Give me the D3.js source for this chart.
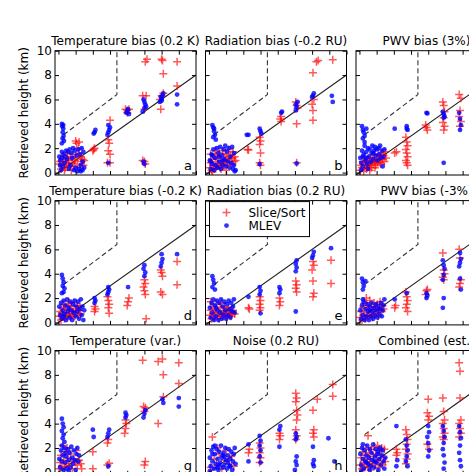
<!DOCTYPE html>
<html>
<head>
<meta charset="utf-8">
<script src="https://cdn.jsdelivr.net/npm/d3@7"></script>
<style>
  body { margin: 0; background: #fff; }
  text { font-family: 'DejaVu Sans', sans-serif; }
</style>
</head>
<body>
<svg id="chart" width="469" height="472"></svg>
<script>
// panel titles and letters
let titles = ['Temperature bias (0.2 K)', 'Radiation bias (-0.2 RU)', 'PWV bias (3%)',
  'Temperature bias (-0.2 K)', 'Radiation bias (0.2 RU)', 'PWV bias (-3%)',
  'Temperature (var.)', 'Noise (0.2 RU)', 'Combined (est.)']
let letters = ['a', 'b', 'c', 'd', 'e', 'f', 'g', 'h', 'i']
let xTicks = [0, 1, 2, 3, 4, 5, 6, 7, 8]
let yTicks = [0, 2, 4, 6, 8, 10]
let oneToOne = [[-0.2, -0.2], [8, 8]]
let limitLine = [[0.3, 3.1], [3.4, 6.4], [3.4, 10]]

// [true height, retrieved height] in km
let sliceA = [[0.05,0.7],[0.1,0.9],[0.15,0.3],[0.2,0.6],[0.25,1.1],[0.3,0.9],[0.35,0.2],[0.4,0.4],[0.45,0.8],[0.5,0.7],[0.55,1.2],[0.6,1.0],[0.65,0.5],[0.7,1.3],[0.75,0.2],[0.8,0.8],[0.85,1.5],[0.9,0.5],[0.95,1.0],[1.0,1.2],[1.0,2.6],[1.05,2.4],[1.1,0.7],[1.15,2.0],[1.2,1.6],[1.25,0.4],[1.3,1.3],[1.35,0.9],[1.4,1.1],[1.45,0.6],[1.5,1.0],[0.3,1.4],[0.5,1.6],[1.2,2.5],
  [2.0,1.8],[2.1,2.0],[2.05,1.9],[3.0,4.3],[2.9,2.7],[2.95,2.4],[2.9,1.8],[3.0,1.5],[2.85,0.8],[3.0,0.8],
  [3.9,5.2],[4.0,5.1],[4.1,5.2],[4.0,4.9],[4.9,6.3],[5.1,6.3],[5.0,5.2],[4.9,1.0],[5.0,0.9],[5.05,0.7],[5.05,9.1],[5.15,9.3],
  [6.0,9.3],[6.05,9.2],[6.1,8.1],[5.9,6.0],[6.0,6.3],[5.95,5.2],[6.1,6.5],[6.9,9.1],[6.9,7.1]]
let mlevA = [[0.05,1.3],[0.1,1.0],[0.15,0.2],[0.2,1.2],[0.25,0.5],[0.3,1.5],[0.35,0.8],[0.4,1.3],[0.45,1.8],[0.5,1.1],[0.55,1.7],[0.6,0.3],[0.65,1.9],[0.7,0.6],[0.75,1.6],[0.8,1.2],[0.85,2.0],[0.9,0.2],[0.95,1.8],[1.0,0.4],[1.05,1.4],[1.1,0.1],[1.15,1.9],[1.2,0.3],[1.25,1.5],[1.3,0.6],[1.35,2.0],[1.4,0.2],[1.45,1.7],[1.5,0.4],[1.3,0.1],[1.4,0.9],[0.2,1.7],[0.1,0.6],
  [0.2,4.0],[0.22,3.8],[0.28,3.6],[0.25,3.3],[0.3,3.0],[0.24,2.8],[0.32,2.6],[0.2,2.4],[0.28,3.9],
  [2.1,3.3],[2.15,3.5],[2.05,3.2],[2.85,3.1],[2.9,3.3],[2.95,3.5],[3.0,3.7],[2.9,3.9],[2.9,0.8],
  [3.95,4.9],[4.0,5.0],[4.05,5.2],[4.1,4.8],[4.9,5.0],[5.0,5.3],[5.05,5.6],[5.0,5.8],[4.95,6.0],[5.1,5.4],[5.0,0.7],[4.95,0.9],
  [5.9,5.8],[6.0,6.0],[6.05,6.3],[6.1,6.5],[5.95,6.2],[6.0,5.9],[6.9,6.4],[6.9,5.6]]

let sliceB = [[0.05,0.4],[0.1,0.8],[0.15,0.2],[0.2,1.1],[0.25,0.6],[0.3,0.3],[0.35,1.4],[0.4,0.9],[0.45,0.5],[0.5,1.2],[0.55,0.7],[0.6,1.6],[0.65,0.4],[0.7,1.0],[0.75,0.8],[0.8,1.8],[0.85,0.6],[0.9,1.3],[0.95,0.9],[1.0,1.5],[1.05,0.7],[1.1,1.1],[1.15,1.9],[1.2,0.9],[1.25,1.4],[1.3,0.6],[1.35,1.2],[1.4,1.7],[1.45,0.9],[1.5,1.3],[1.55,1.0],[0.4,1.8],[0.1,1.5],[0.7,0.3],[1.0,0.2],[0.2,0.05],
  [2.3,1.85],[2.25,1.9],[2.95,2.9],[3.0,2.6],[2.95,2.3],[3.0,1.6],[2.95,0.8],[3.0,0.6],
  [4.2,4.6],[4.15,4.4],[4.2,4.2],[5.05,5.8],[5.1,5.5],[5.15,5.3],[5.1,4.0],[5.1,0.8],
  [6.05,8.2],[6.1,6.0],[6.0,5.6],[6.05,5.1],[6.05,4.3],[6.25,9.1],[6.35,9.2],[7.2,9.25]]
let mlevB = [[0.05,1.0],[0.1,0.3],[0.15,1.5],[0.2,0.7],[0.25,1.9],[0.3,0.2],[0.35,1.2],[0.4,0.6],[0.45,2.0],[0.5,0.4],[0.55,1.6],[0.6,0.9],[0.65,2.1],[0.7,0.3],[0.75,1.4],[0.8,0.6],[0.85,1.9],[0.9,1.1],[0.95,2.2],[1.0,0.5],[1.05,1.7],[1.1,0.9],[1.15,2.0],[1.2,0.4],[1.25,1.3],[1.3,0.8],[1.35,2.1],[1.4,0.3],[1.45,1.6],[1.5,0.1],[1.55,0.2],[0.2,1.4],[0.6,1.3],[0.1,0.9],[0.8,1.0],[1.45,0.6],
  [0.2,3.9],[0.25,3.7],[0.3,3.4],[0.35,3.1],[0.25,2.9],[0.4,2.7],[0.3,3.6],
  [2.2,3.1],[2.3,3.1],[2.95,3.6],[3.0,3.4],[3.05,3.2],[2.95,0.7],
  [4.2,4.9],[4.25,5.0],[5.05,5.1],[5.1,5.4],[5.15,5.8],[5.05,5.6],[5.1,0.75],
  [6.0,6.2],[6.1,6.5],[6.05,6.3],[7.15,6.3],[7.2,5.8]]

let sliceC = [[0.05,0.2],[0.1,0.6],[0.15,0.4],[0.2,0.9],[0.25,0.1],[0.3,0.7],[0.35,1.0],[0.4,0.3],[0.45,0.8],[0.5,0.5],[0.55,1.2],[0.6,0.6],[0.65,0.9],[0.7,0.4],[0.75,1.1],[0.8,0.7],[0.85,1.4],[0.9,0.9],[0.95,0.6],[1.0,1.2],[1.05,0.8],[1.1,1.5],[1.15,1.0],[1.2,1.3],[1.25,0.7],[1.3,1.6],[1.35,1.1],[1.4,1.4],[1.45,0.9],[1.5,1.7],[1.55,1.2],[0.3,1.3],[0.6,0.2],[0.9,0.4],[1.2,0.8],
  [2.05,1.6],[2.15,1.7],[2.7,2.9],[2.75,2.5],[2.8,2.2],[2.7,1.9],[2.75,1.6],[2.8,1.3],[2.7,1.0],[2.75,0.8],[2.8,0.6],
  [3.85,3.9],[3.9,3.7],[3.95,3.5],[4.85,5.8],[4.9,5.5],[4.95,5.0],[4.9,4.5],[4.85,4.1],[4.95,3.8],[4.9,3.5],
  [5.8,6.4],[5.9,6.1],[5.85,5.1],[5.8,4.6],[5.9,4.2],[5.85,3.8]]
let mlevC = [[0.05,1.2],[0.1,0.8],[0.15,1.8],[0.2,0.5],[0.25,1.5],[0.3,2.2],[0.35,1.0],[0.4,1.7],[0.45,0.7],[0.5,2.0],[0.55,1.3],[0.6,1.9],[0.65,0.9],[0.7,1.6],[0.75,2.2],[0.8,1.1],[0.85,1.8],[0.9,2.1],[0.95,1.4],[1.0,1.9],[1.05,1.0],[1.1,2.0],[1.15,1.5],[1.2,2.2],[1.25,1.2],[1.3,1.8],[1.35,0.5],[1.4,1.3],[1.45,1.9],[0.2,1.3],[0.5,0.3],[0.1,0.2],[0.4,1.2],[0.8,1.6],
  [0.15,3.8],[0.2,3.5],[0.25,3.3],[0.3,3.0],[0.2,2.8],[0.3,2.5],[0.4,3.6],
  [2.05,3.6],[2.75,3.8],[2.8,3.5],[2.75,3.6],[3.9,4.9],[3.95,4.85],
  [4.85,5.0],[4.9,4.8],[4.95,4.6],[4.9,4.5],[4.9,0.8],[5.8,4.9],[5.85,4.4],[5.9,3.9],[5.85,3.5]]

let sliceD = [[0.05,0.5],[0.1,0.9],[0.15,0.2],[0.2,1.2],[0.25,0.6],[0.3,1.5],[0.35,0.3],[0.4,0.8],[0.45,1.1],[0.5,0.5],[0.55,1.4],[0.6,0.7],[0.65,1.0],[0.7,0.4],[0.75,1.3],[0.8,0.6],[0.85,0.9],[0.9,1.6],[0.95,0.5],[1.0,1.1],[1.05,0.8],[1.1,1.4],[1.15,0.6],[1.2,1.0],[1.25,1.3],[1.3,0.7],[0.2,0.8],[0.6,1.7],
  [2.1,0.9],[2.15,1.1],[2.1,1.3],[2.85,2.1],[2.9,1.8],[2.95,1.5],[2.9,1.2],[2.95,0.75],
  [4.0,1.4],[4.05,1.7],[4.1,2.0],[5.0,3.5],[5.05,3.2],[4.95,2.9],[5.0,2.6],[5.05,2.3],[5.1,0.3],
  [5.95,4.3],[6.0,4.1],[6.05,3.8],[5.95,2.5],[6.05,2.3],[6.9,5.0],[6.9,3.1]]
let mlevD = [[0.05,1.3],[0.1,0.6],[0.15,1.6],[0.2,0.3],[0.25,1.0],[0.3,1.8],[0.35,0.7],[0.4,1.4],[0.45,0.2],[0.5,1.9],[0.55,0.9],[0.6,1.2],[0.65,0.4],[0.7,1.7],[0.75,1.0],[0.8,0.2],[0.85,1.5],[0.9,0.8],[0.95,1.8],[1.0,0.5],[1.05,1.3],[1.1,0.9],[1.15,1.7],[1.2,0.3],[1.25,1.1],[1.3,1.9],[1.35,0.6],[1.4,1.3],[1.45,0.2],[1.5,1.0],[0.3,0.5],
  [0.2,3.9],[0.25,3.6],[0.3,3.3],[0.25,3.0],[0.35,2.8],[0.3,2.5],[0.2,2.4],
  [2.1,1.6],[2.15,1.8],[2.1,2.0],[2.85,2.3],[2.9,2.5],[2.95,2.7],[2.9,2.9],[4.05,2.9],
  [5.0,3.8],[5.05,4.1],[4.95,4.4],[5.0,4.7],[5.95,4.6],[6.0,4.9],[6.05,5.2],[6.0,5.6],[6.9,5.6]]

let sliceE = [[0.05,0.6],[0.1,1.0],[0.15,0.3],[0.2,1.3],[0.25,0.7],[0.3,0.4],[0.35,1.1],[0.4,0.8],[0.45,1.5],[0.5,0.5],[0.55,1.0],[0.6,0.3],[0.65,1.2],[0.7,0.7],[0.75,1.6],[0.8,0.5],[0.85,0.9],[0.9,1.3],[0.95,0.6],[1.0,1.0],[1.05,0.4],[1.1,0.8],[1.15,1.2],[1.2,0.6],[1.25,0.9],[1.3,0.5],[1.35,0.8],[1.4,1.0],[1.5,0.7],[0.1,1.7],
  [2.3,1.2],[2.35,1.1],[2.95,2.1],[3.0,1.8],[2.95,1.5],[3.0,1.2],[2.95,1.0],
  [4.1,1.4],[4.15,1.7],[4.1,2.0],[5.05,3.4],[5.1,3.1],[5.05,2.8],[5.1,2.5],
  [6.05,5.0],[6.1,4.7],[6.0,4.3],[6.05,3.4],[6.1,2.4],[6.05,2.1],[7.1,5.1],[7.1,3.2]]
let mlevE = [[0.05,1.2],[0.1,0.4],[0.15,1.6],[0.2,0.8],[0.25,1.9],[0.3,0.2],[0.35,1.4],[0.4,0.5],[0.45,1.8],[0.5,1.0],[0.55,0.2],[0.6,1.6],[0.65,0.8],[0.7,1.9],[0.75,0.3],[0.8,1.3],[0.85,0.6],[0.9,1.7],[0.95,1.0],[1.0,0.3],[1.05,1.5],[1.1,0.6],[1.15,1.8],[1.2,1.1],[1.25,0.4],[1.3,1.6],[1.35,0.9],[1.4,1.3],[1.45,1.9],[1.5,0.8],[0.4,1.2],
  [0.2,3.8],[0.25,3.5],[0.3,3.2],[0.2,2.9],[0.35,2.7],
  [2.3,2.1],[2.95,2.3],[3.0,2.6],[2.95,2.9],[3.0,0.75],[4.1,2.4],[4.15,2.7],[4.1,2.9],
  [5.05,4.2],[5.1,4.5],[5.05,4.8],[5.1,5.1],[5.05,0.9],[6.0,5.3],[6.05,5.5],[6.1,5.8],[7.1,6.1]]

let sliceF = [[0.05,0.4],[0.1,0.9],[0.15,0.2],[0.2,1.2],[0.25,0.6],[0.3,1.6],[0.35,0.3],[0.4,0.8],[0.45,1.4],[0.5,0.5],[0.55,1.1],[0.6,1.8],[0.65,0.7],[0.7,1.3],[0.75,0.4],[0.8,1.0],[0.85,1.6],[0.9,0.6],[0.95,1.2],[1.0,0.8],[1.05,1.5],[1.1,0.5],[1.15,1.0],[1.2,1.7],[1.3,0.9],[1.35,1.4],[1.4,1.1],[0.4,2.0],
  [2.05,1.2],[2.1,1.4],[2.7,2.5],[2.75,2.1],[2.8,1.8],[2.75,1.5],[2.7,1.2],[2.8,0.9],
  [3.85,2.3],[3.9,2.6],[3.95,2.7],[4.85,5.7],[4.9,4.3],[4.95,4.0],[4.85,3.7],[4.9,3.5],
  [5.8,6.0],[5.85,5.3],[5.9,3.5],[5.85,3.2],[5.8,2.9]]
let mlevF = [[0.05,1.0],[0.1,0.3],[0.15,1.4],[0.2,0.6],[0.25,1.7],[0.3,0.2],[0.35,1.1],[0.4,0.5],[0.45,1.5],[0.5,0.9],[0.55,0.2],[0.6,1.3],[0.65,0.5],[0.7,1.6],[0.75,0.9],[0.8,0.3],[0.85,1.2],[0.9,0.6],[0.95,1.5],[1.0,1.0],[1.05,0.4],[1.1,1.3],[1.15,0.7],[1.2,1.1],[1.25,1.6],[1.3,0.5],[1.35,1.0],[1.4,1.4],[1.45,1.9],[0.2,1.9],[0.6,1.0],
  [0.15,3.6],[0.2,3.3],[0.25,3.0],[0.2,2.7],[0.35,3.4],
  [2.05,1.9],[2.75,2.4],[3.9,2.0],[3.95,2.2],[3.9,2.4],
  [4.85,5.1],[4.9,4.7],[4.95,4.4],[4.9,3.9],[4.85,3.5],[4.9,2.0],[4.85,1.2],
  [5.85,5.7],[5.9,5.2],[5.85,4.9],[5.8,4.6],[5.85,3.6],[5.9,2.7]]

let sliceG = [[0.05,0.3],[0.1,0.8],[0.15,1.4],[0.2,0.5],[0.25,2.2],[0.3,1.0],[0.35,0.4],[0.4,1.7],[0.45,0.7],[0.5,2.0],[0.55,1.2],[0.6,0.5],[0.7,1.5],[0.75,0.9],[0.8,0.3],[0.9,1.1],[1.0,0.8],[1.05,1.8],[1.1,0.6],[1.2,1.0],[1.3,0.7],[1.35,0.3],
  [2.0,1.7],[2.0,0.3],[2.85,2.4],[2.9,2.7],[2.85,0.6],[2.95,0.75],
  [3.85,3.2],[3.9,3.6],[3.95,4.0],[3.9,4.3],[5.0,5.0],[5.05,5.3],[4.95,5.4],[5.0,0.6],[5.05,0.9],[4.9,9.2],
  [5.8,9.1],[5.8,4.0],[6.05,9.3],[6.1,8.0],[6.1,6.2],[7.0,9.0],[7.0,7.3]]
let mlevG = [[0.05,1.1],[0.1,0.4],[0.15,1.8],[0.2,0.9],[0.25,1.4],[0.3,0.2],[0.35,2.0],[0.4,0.8],[0.45,1.3],[0.5,0.3],[0.55,1.9],[0.6,1.0],[0.65,1.6],[0.7,0.4],[0.75,2.1],[0.8,1.2],[0.85,0.7],[0.9,1.8],[0.95,1.0],[1.0,0.2],[1.05,1.5],[1.1,2.0],[1.15,0.9],[1.2,1.4],[0.2,2.2],[0.4,1.6],[0.6,0.1],
  [0.2,4.4],[0.25,4.0],[0.3,3.7],[0.2,3.4],[0.3,3.1],[0.25,2.8],[0.35,2.5],
  [2.0,3.5],[2.05,2.9],[2.85,2.9],[2.9,3.2],[2.95,3.5],[2.9,0.5],[3.9,4.5],[3.95,4.7],[3.9,4.9],
  [4.95,4.5],[5.0,4.8],[5.05,5.1],[6.1,5.7],[6.05,6.0],[7.0,6.1],[7.0,5.4]]

let sliceH = [[0.2,2.9],[0.1,0.4],[0.3,1.1],[0.45,0.6],[0.6,1.5],[0.75,0.3],[0.9,1.0],[1.0,1.8],[1.15,0.7],[1.3,1.3],[1.45,0.5],[0.5,2.0],
  [2.3,1.6],[2.35,1.9],[2.95,2.4],[3.0,2.0],[2.95,1.6],[3.0,1.2],[2.95,0.8],
  [4.1,2.7],[4.15,3.0],[4.1,3.2],[5.05,6.5],[5.1,6.1],[5.05,5.8],[5.1,5.1],[5.15,4.7],[5.1,4.3],[5.05,3.5],[5.1,3.0],[5.05,2.7],
  [6.05,5.1],[6.1,3.5],[6.05,3.2],[6.1,2.9],[6.3,6.0],[7.2,6.25],[7.2,7.2]]
let mlevH = [[0.05,1.2],[0.1,0.5],[0.15,1.8],[0.2,0.9],[0.25,2.1],[0.3,0.3],[0.35,1.5],[0.4,0.7],[0.45,1.9],[0.5,1.1],[0.55,0.2],[0.6,1.7],[0.65,0.8],[0.7,2.2],[0.75,1.2],[0.8,0.4],[0.85,1.6],[0.9,0.6],[0.95,2.0],[1.0,1.0],[1.05,0.3],[1.1,1.4],[1.15,1.9],[1.2,0.5],[1.25,1.1],[1.3,1.7],[1.35,0.2],[1.4,0.9],[1.45,1.5],[1.5,2.0],[1.55,0.7],[0.2,1.5],[0.5,0.4],[0.8,1.4],[1.1,0.8],[0.35,2.2],[0.05,0.1],[0.6,0.6],[1.25,0.5],[0.9,1.3],
  [2.3,2.3],[2.3,0.9],[2.95,3.0],[3.0,2.6],[2.95,2.2],[3.0,1.8],[2.95,1.3],[3.0,0.8],
  [4.1,3.5],[4.15,3.8],[4.1,2.1],[5.05,3.2],[5.1,2.9],[5.05,2.7],[5.1,1.3],[5.05,0.9],[5.1,0.6],[5.0,0.2],
  [6.05,2.1],[6.1,1.0],[6.05,0.7],[6.1,0.5],[6.95,2.8],[7.3,0.9]]

let sliceI = [[0.5,3.0],[0.05,0.6],[0.1,1.2],[0.15,0.3],[0.2,1.7],[0.25,0.8],[0.3,0.4],[0.35,1.4],[0.4,2.0],[0.45,0.9],[0.5,0.5],[0.55,1.6],[0.6,1.1],[0.65,0.2],[0.7,1.9],[0.75,0.7],[0.8,1.3],[0.85,2.1],[0.9,0.6],[0.95,1.5],[1.0,1.0],[1.05,2.2],[1.1,0.4],[1.15,1.8],[1.2,0.8],[1.25,1.4],[1.3,2.0],[1.35,0.6],[1.4,1.2],[1.45,1.9],[1.5,0.9],
  [2.15,1.9],[2.2,1.6],[2.15,1.4],[2.7,3.5],[2.75,3.1],[2.8,2.7],[2.75,2.3],[2.7,1.9],[2.8,1.5],[2.75,1.1],[2.7,0.7],
  [4.0,6.0],[3.95,4.9],[4.05,4.6],[4.0,4.3],[3.95,2.3],[4.05,1.9],
  [4.85,6.1],[4.9,5.0],[4.95,4.3],[4.85,4.0],[4.9,3.6],[4.95,3.2],[4.85,2.9],[4.9,2.7],
  [5.8,9.0],[5.85,8.3],[5.85,6.1],[5.9,4.3],[5.8,4.0],[5.85,3.6],[5.9,3.2],[5.8,2.9]]
let mlevI = [[0.05,1.5],[0.1,0.6],[0.15,2.0],[0.2,1.1],[0.25,0.3],[0.3,1.8],[0.35,0.9],[0.4,1.4],[0.45,2.2],[0.5,0.7],[0.55,1.2],[0.6,1.9],[0.65,0.5],[0.7,1.6],[0.75,1.0],[0.8,2.3],[0.85,0.4],[0.9,1.3],[0.95,1.9],[1.0,0.8],[1.05,1.5],[1.1,0.2],[1.15,1.1],[1.2,2.0],[1.25,0.6],[1.3,1.4],[1.35,1.8],[1.4,0.9],[1.45,0.3],[1.5,1.2],[0.2,2.3],[0.6,0.2],[0.9,0.9],[0.1,0.1],[0.4,0.8],[1.1,1.7],
  [2.15,3.8],[2.2,1.0],[2.15,0.5],[2.7,2.7],[2.75,2.2],[2.8,1.8],[2.75,1.3],[2.7,0.9],[2.8,0.5],
  [4.0,3.8],[4.05,3.3],[3.95,2.9],[4.0,2.4],[4.05,1.8],[4.0,1.3],
  [4.85,3.8],[4.9,3.4],[4.95,2.9],[4.9,2.4],[4.85,1.9],[4.9,1.4],[4.95,0.8],[4.9,0.3],
  [5.8,3.8],[5.85,3.3],[5.9,2.8],[5.85,2.2],[5.8,1.6],[5.85,1.0],[5.9,0.5]]

let sliceData = [sliceA, sliceB, sliceC, sliceD, sliceE, sliceF, sliceG, sliceH, sliceI]
let mlevData = [mlevA, mlevB, mlevC, mlevD, mlevE, mlevF, mlevG, mlevH, mlevI]

let svg = d3.select('#chart')

let margin = { left: 55, top: 50.7 }
let width = 141
let height = 124.3
let colStep = 150.5
let rowStep = 149.9

let xScale = d3.scaleLinear().domain([-0.2, 8]).range([0, width])
let yScale = d3.scaleLinear().domain([-0.2, 10]).range([height, 0])

let line = d3.line()
  .x(d => xScale(d[0]))
  .y(d => yScale(d[1]))

let plus = 'M-4,0H4M0,-4V4'

titles.forEach((title, i) => {
  let col = i % 3
  let row = Math.floor(i / 3)
  let g = svg.append('g')
    .attr('transform', `translate(${margin.left + col * colStep},${margin.top + row * rowStep})`)

  g.append('clipPath')
    .attr('id', 'clip' + i)
    .append('rect')
    .attr('width', width)
    .attr('height', height)

  let plot = g.append('g').attr('clip-path', `url(#clip${i})`)

  plot.append('path')
    .datum(limitLine)
    .attr('d', line)
    .attr('fill', 'none')
    .attr('stroke', '#333')
    .attr('stroke-width', 1.1)
    .attr('stroke-dasharray', '5,3')

  plot.append('path')
    .datum(oneToOne)
    .attr('d', line)
    .attr('fill', 'none')
    .attr('stroke', '#222')
    .attr('stroke-width', 1.1)

  plot.selectAll('.slice')
    .data(sliceData[i])
    .enter()
    .append('path')
    .attr('class', 'slice')
    .attr('d', plus)
    .attr('transform', d => `translate(${xScale(d[0])},${yScale(d[1])})`)
    .attr('stroke', '#ff0000')
    .attr('stroke-opacity', 0.65)
    .attr('stroke-width', 1.5)

  plot.selectAll('.mlev')
    .data(mlevData[i])
    .enter()
    .append('circle')
    .attr('class', 'mlev')
    .attr('cx', d => xScale(d[0]))
    .attr('cy', d => yScale(d[1]))
    .attr('r', 2.4)
    .attr('fill', '#0000ff')
    .attr('fill-opacity', 0.8)

  // ticks point inward on all four sides
  g.append('g')
    .attr('transform', `translate(0,${height})`)
    .call(d3.axisBottom(xScale).tickValues(xTicks).tickSize(-4).tickFormat(''))
  g.append('g')
    .call(d3.axisTop(xScale).tickValues(xTicks).tickSize(-4).tickFormat(''))
  g.append('g')
    .call(d3.axisLeft(yScale).tickValues(yTicks).tickSize(-4).tickPadding(3)
      .tickFormat(col === 0 ? d3.format('d') : ''))
  g.append('g')
    .attr('transform', `translate(${width},0)`)
    .call(d3.axisRight(yScale).tickValues(yTicks).tickSize(-4).tickFormat(''))

  g.selectAll('.domain').remove()
  g.selectAll('.tick text')
    .attr('font-family', 'DejaVu Sans')
    .attr('font-size', 12)
    .attr('fill', '#000')

  g.append('rect')
    .attr('width', width)
    .attr('height', height)
    .attr('fill', 'none')
    .attr('stroke', '#000')
    .attr('stroke-width', 1)

  g.append('text')
    .text(title)
    .attr('x', width / 2)
    .attr('y', -6)
    .attr('text-anchor', 'middle')
    .attr('font-size', 12)

  g.append('text')
    .text(letters[i])
    .attr('x', width - 4)
    .attr('y', height - 5)
    .attr('text-anchor', 'end')
    .attr('font-size', 13)

  if (col === 0) {
    g.append('text')
      .text('Retrieved height (km)')
      .attr('transform', `translate(-27,${height / 2}) rotate(-90)`)
      .attr('text-anchor', 'middle')
      .attr('font-size', 12)
  }

  if (letters[i] === 'e') {
    let legend = g.append('g').attr('transform', 'translate(4,1)')
    legend.append('rect')
      .attr('width', 100)
      .attr('height', 35)
      .attr('fill', '#fff')
      .attr('stroke', '#000')
    legend.append('path')
      .attr('d', plus)
      .attr('transform', 'translate(17,11)')
      .attr('stroke', '#ff0000')
      .attr('stroke-opacity', 0.65)
      .attr('stroke-width', 1.5)
    legend.append('circle')
      .attr('cx', 17)
      .attr('cy', 24)
      .attr('r', 2.4)
      .attr('fill', '#0000ff')
      .attr('fill-opacity', 0.8)
    legend.append('text').text('Slice/Sort').attr('x', 39).attr('y', 15.5).attr('font-size', 12)
    legend.append('text').text('MLEV').attr('x', 39).attr('y', 28.5).attr('font-size', 12)
  }
})
</script>
</body>
</html>
